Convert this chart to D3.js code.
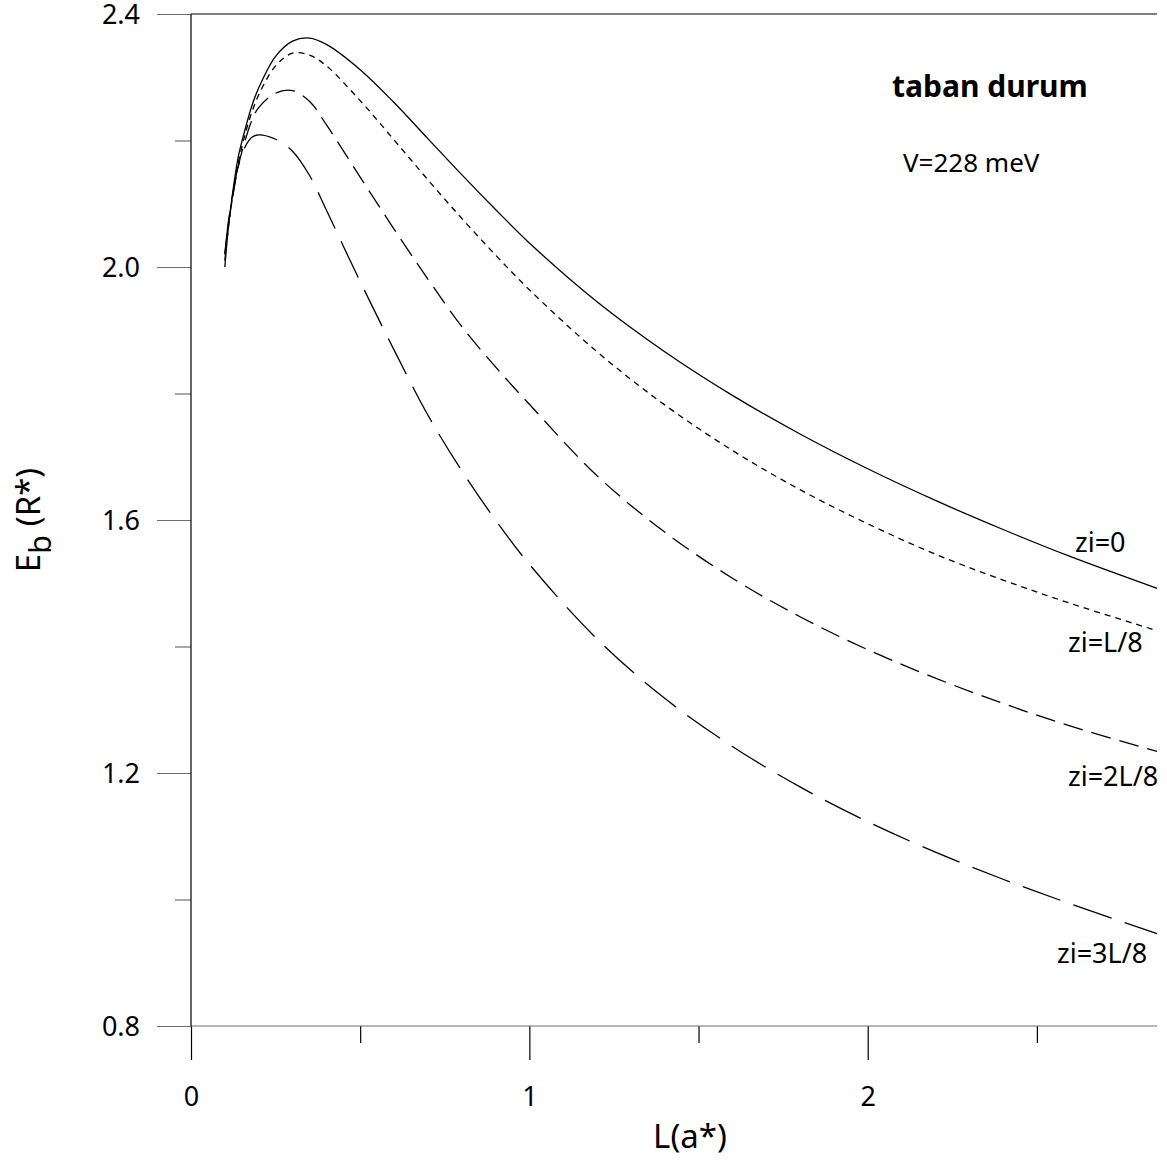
<!DOCTYPE html>
<html>
<head>
<meta charset="utf-8">
<script src="https://cdn.jsdelivr.net/npm/d3@7"></script>
<style>
  body { margin: 0; background: #fff; }
  svg text { font-family: "Noto Sans", "DejaVu Sans", sans-serif; fill: #000; }
</style>
</head>
<body>
<div id="chart"></div>
<script>
// L (a*) values shared by all curves
const L_vals = [0.1, 0.11, 0.12, 0.14, 0.16, 0.18, 0.2, 0.25, 0.3, 0.35, 0.4, 0.5, 0.6, 0.7, 0.8, 0.9, 1.0, 1.2, 1.4, 1.6, 1.8, 2.0, 2.2, 2.4, 2.6, 2.855];

// Eb (R*) per impurity position
const E_zi0  = [2.00, 2.06, 2.105, 2.175, 2.218, 2.255, 2.283, 2.333, 2.357, 2.362, 2.352, 2.312, 2.260, 2.203, 2.146, 2.091, 2.038, 1.945, 1.866, 1.797, 1.736, 1.681, 1.631, 1.585, 1.542, 1.492];
const E_zi1  = [2.01, 2.06, 2.10, 2.165, 2.21, 2.245, 2.272, 2.318, 2.338, 2.335, 2.318, 2.263, 2.201, 2.138, 2.077, 2.019, 1.964, 1.866, 1.782, 1.710, 1.648, 1.594, 1.546, 1.505, 1.468, 1.425];
const E_zi2  = [2.02, 2.065, 2.10, 2.16, 2.20, 2.232, 2.252, 2.275, 2.279, 2.262, 2.225, 2.142, 2.060, 1.981, 1.906, 1.842, 1.783, 1.670, 1.581, 1.508, 1.447, 1.395, 1.350, 1.310, 1.274, 1.234];
const E_zi3  = [2.02, 2.07, 2.105, 2.16, 2.19, 2.205, 2.209, 2.202, 2.183, 2.145, 2.09, 1.977, 1.869, 1.766, 1.678, 1.600, 1.530, 1.412, 1.318, 1.242, 1.178, 1.123, 1.075, 1.032, 0.993, 0.946];

const seriesNames = ['zi=0', 'zi=L/8', 'zi=2L/8', 'zi=3L/8'];
const seriesValues = [E_zi0, E_zi1, E_zi2, E_zi3];

const yMajor = [0.8, 1.2, 1.6, 2.0, 2.4];
const yMinor = [1.0, 1.4, 1.8, 2.2];
const xMajor = [0, 1, 2];
const xMinor = [0.5, 1.5, 2.5];

const W = 1167, H = 1162;
const svg = d3.select('#chart').append('svg').attr('width', W).attr('height', H);

const x = d3.scaleLinear().domain([0, 2.855]).range([191, 1157]);
const y = d3.scaleLinear().domain([0.8, 2.4]).range([1026, 14]);

// dash style per curve
const dashes = [null, '6,5', '20,9', '40,14'];

// y axis, major + minor ticks (grey ticks, black line)
const yAx = svg.append('g').attr('transform', `translate(${x(0)},0)`)
    .call(d3.axisLeft(y).tickValues(yMajor).tickSize(34).tickSizeOuter(0).tickPadding(17)
        .tickFormat(d3.format('.1f')));
yAx.select('.domain').remove();
yAx.selectAll('line').attr('stroke', '#6e6e6e').attr('stroke-width', 1.2);
yAx.selectAll('text').style('font-size', '27px').attr('dy', '0.36em');

const yAxMin = svg.append('g').attr('transform', `translate(${x(0)},0)`)
    .call(d3.axisLeft(y).tickValues(yMinor).tickSize(16).tickFormat(''));
yAxMin.select('.domain').remove();
yAxMin.selectAll('line').attr('stroke', '#6e6e6e').attr('stroke-width', 1.2);

// x axis
const xAx = svg.append('g').attr('transform', `translate(0,${y(0.8)})`)
    .call(d3.axisBottom(x).tickValues(xMajor).tickSize(34).tickSizeOuter(0).tickPadding(27)
        .tickFormat(d3.format('d')));
xAx.select('.domain').remove();
xAx.selectAll('line').attr('stroke', '#000').attr('stroke-width', 1.2);
xAx.selectAll('text').style('font-size', '27px');

const xAxMin = svg.append('g').attr('transform', `translate(0,${y(0.8)})`)
    .call(d3.axisBottom(x).tickValues(xMinor).tickSize(17).tickFormat(''));
xAxMin.select('.domain').remove();
xAxMin.selectAll('line').attr('stroke', '#000').attr('stroke-width', 1.2);

// frame lines
svg.append('line')
    .attr('x1', x(0)).attr('x2', x.range()[1])
    .attr('y1', y(0.8)).attr('y2', y(0.8))
    .attr('stroke', '#6e6e6e').attr('stroke-width', 1.2);
svg.append('line')
    .attr('x1', x(0)).attr('x2', x.range()[1])
    .attr('y1', y(2.4)).attr('y2', y(2.4))
    .attr('stroke', '#000').attr('stroke-width', 1.2);
svg.append('line')
    .attr('x1', x(0)).attr('x2', x(0))
    .attr('y1', y(2.4)).attr('y2', y(0.8))
    .attr('stroke', '#000').attr('stroke-width', 1.2);

// curves
const line = d3.line()
    .x(d => x(d[0]))
    .y(d => y(d[1]))
    .curve(d3.curveCatmullRom.alpha(0.5));

seriesValues.forEach((vals, i) => {
    svg.append('path')
        .datum(L_vals.map((l, j) => [l, vals[j]]))
        .attr('fill', 'none')
        .attr('stroke', '#000')
        .attr('stroke-width', 1.3)
        .attr('stroke-dasharray', dashes[i])
        .attr('d', line);
});

// curve labels
const labelPos = [[1075, 552], [1068, 652], [1068, 786], [1057, 963]];
seriesNames.forEach((name, i) => {
    svg.append('text')
        .attr('x', labelPos[i][0]).attr('y', labelPos[i][1])
        .style('font-size', '27px')
        .text(name);
});

// annotations
svg.append('text').attr('x', 892).attr('y', 97)
    .style('font-size', '30px').style('font-weight', 'bold')
    .text('taban durum');
svg.append('text').attr('x', 903).attr('y', 172)
    .style('font-size', '26px')
    .text('V=228 meV');

// axis titles
svg.append('text').attr('x', 690).attr('y', 1148)
    .attr('text-anchor', 'middle')
    .style('font-size', '33px')
    .text('L(a*)');

const yt = svg.append('text')
    .attr('transform', 'translate(40,520) rotate(-90)')
    .attr('text-anchor', 'middle')
    .style('font-size', '33px');
yt.append('tspan').text('E');
yt.append('tspan').attr('dy', 11).style('font-size', '31px').text('b');
yt.append('tspan').attr('dy', -11).text(' (R*)');
</script>
</body>
</html>
